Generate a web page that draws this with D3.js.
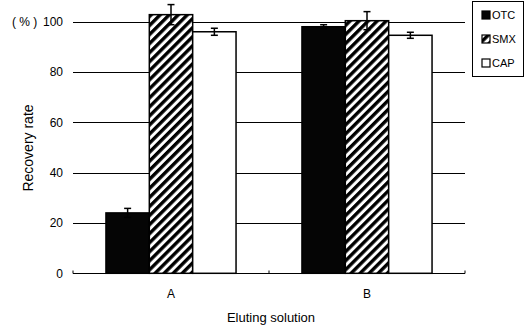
<!DOCTYPE html>
<html>
<head>
<meta charset="utf-8">
<script src="https://cdn.jsdelivr.net/npm/d3@7"></script>
<style>
  html, body { margin: 0; padding: 0; background: #fff; }
  svg { display: block; }
  text { font-family: "Liberation Sans", Arial, Helvetica, sans-serif; fill: #000; }
</style>
</head>
<body>
<svg id="chart" width="525" height="331"></svg>
<script>
// ---- data ----
const categories = ["A", "B"];
const series = ["OTC", "SMX", "CAP"];
const otcValues = [24, 98];
const smxValues = [102.8, 100.4];
const capValues = [96, 94.6];
const otcErrors = [1.8, 0.8];
const smxErrors = [4, 3.6];
const capErrors = [1.4, 1.2];
const yTicks = [0, 20, 40, 60, 80, 100];

const valuesBySeries = { OTC: otcValues, SMX: smxValues, CAP: capValues };
const errorsBySeries = { OTC: otcErrors, SMX: smxErrors, CAP: capErrors };

const svg = d3.select("#chart");
svg.append("rect").attr("width", 525).attr("height", 331).attr("fill", "#fff");

const defs = svg.append("defs");
const pat = defs.append("pattern")
  .attr("id", "hatch")
  .attr("patternUnits", "userSpaceOnUse")
  .attr("width", 6.4).attr("height", 6.4)
  .attr("patternTransform", "rotate(45)");
pat.append("rect").attr("width", 6.4).attr("height", 6.4).attr("fill", "#fff");
pat.append("rect").attr("x", 0).attr("y", 0).attr("width", 3.4).attr("height", 6.4).attr("fill", "#000");

const fills = { OTC: "#050505", SMX: "url(#hatch)", CAP: "#fff" };

const x = d3.scaleBand().domain(categories).range([73, 465]).paddingInner(0).paddingOuter(0);
const xInner = d3.scaleBand().domain(series).range([0, x.bandwidth()]).paddingInner(0).paddingOuter(0.76);
const y = d3.scaleLinear().domain([0, 100]).range([273.3, 21.7]);

// gridlines
const grid = svg.append("g");
grid.selectAll("line").data(yTicks.filter(t => t > 0)).join("line")
  .attr("x1", 73).attr("x2", 465)
  .attr("y1", d => Math.round(y(d)) + 0.5).attr("y2", d => Math.round(y(d)) + 0.5)
  .attr("stroke", "#000").attr("stroke-width", 1);

// y axis labels
const yAxis = d3.axisLeft(y).tickValues(yTicks).tickSize(0).tickPadding(10).tickFormat(d3.format("d"));
const gy = svg.append("g").attr("transform", "translate(73,0)").call(yAxis);
gy.select(".domain").remove();
gy.selectAll("text").attr("font-size", 12).style("font-family", "'Liberation Sans', Arial, sans-serif");

svg.append("text").attr("x", 12).attr("y", y(100) + 4.5).attr("font-size", 12).text("( % )");

// x baseline with small ticks
const baseY = Math.round(y(0)) + 0.5;
svg.append("line").attr("x1", 73).attr("x2", 465).attr("y1", baseY).attr("y2", baseY)
  .attr("stroke", "#000").attr("stroke-width", 1.2);
const tickXs = [x.range()[0], ...categories.map(c => x(c) + x.bandwidth())];
svg.append("g").selectAll("line").data(tickXs).join("line")
  .attr("x1", d => d).attr("x2", d => d).attr("y1", baseY).attr("y2", baseY - 3)
  .attr("stroke", "#000").attr("stroke-width", 1);

// x axis labels
const xAxis = d3.axisBottom(x).tickSize(0).tickPadding(16);
const gx = svg.append("g").attr("transform", `translate(0,${baseY})`).call(xAxis);
gx.select(".domain").remove();
gx.selectAll("text").attr("font-size", 12).style("font-family", "'Liberation Sans', Arial, sans-serif");

// bars
const groups = svg.append("g").selectAll("g").data(categories).join("g")
  .attr("transform", c => `translate(${x(c)},0)`);
groups.each(function(c, ci) {
  const g = d3.select(this);
  series.forEach(s => {
    const v = valuesBySeries[s][ci];
    g.append("rect")
      .attr("x", xInner(s)).attr("width", xInner.bandwidth())
      .attr("y", y(v)).attr("height", y(0) - y(v))
      .attr("fill", fills[s]).attr("stroke", "#000").attr("stroke-width", 1.5);
  });
  series.forEach(s => {
    const v = valuesBySeries[s][ci];
    const e = errorsBySeries[s][ci];
    const cx = xInner(s) + xInner.bandwidth() / 2;
    const eg = g.append("g").attr("stroke", "#000").attr("stroke-width", 1.5);
    eg.append("line").attr("x1", cx).attr("x2", cx).attr("y1", y(v + e)).attr("y2", y(v - e));
    eg.append("line").attr("x1", cx - 3.5).attr("x2", cx + 3.5).attr("y1", y(v + e)).attr("y2", y(v + e));
    eg.append("line").attr("x1", cx - 3.5).attr("x2", cx + 3.5).attr("y1", y(v - e)).attr("y2", y(v - e));
  });
});

// axis titles
svg.append("text").attr("x", 271).attr("y", 322).attr("text-anchor", "middle").attr("font-size", 13).text("Eluting solution");
svg.append("text").attr("transform", "translate(33,148) rotate(-90)").attr("text-anchor", "middle").attr("font-size", 14).text("Recovery rate");

// legend
const legend = svg.append("g");
legend.append("rect").attr("x", 472.5).attr("y", 1.5).attr("width", 51).attr("height", 75)
  .attr("fill", "#fff").attr("stroke", "#000").attr("stroke-width", 1);
const li = legend.selectAll("g.item").data(series).join("g").attr("class", "item")
  .attr("transform", (d, i) => `translate(482,${15 + i * 24})`);
li.append("rect").attr("x", 0).attr("y", -4).attr("width", 8).attr("height", 8)
  .attr("fill", d => fills[d]).attr("stroke", "#000").attr("stroke-width", 1.2);
li.append("text").attr("x", 10).attr("y", 4).attr("font-size", 11).text(d => d);
</script>
</body>
</html>
